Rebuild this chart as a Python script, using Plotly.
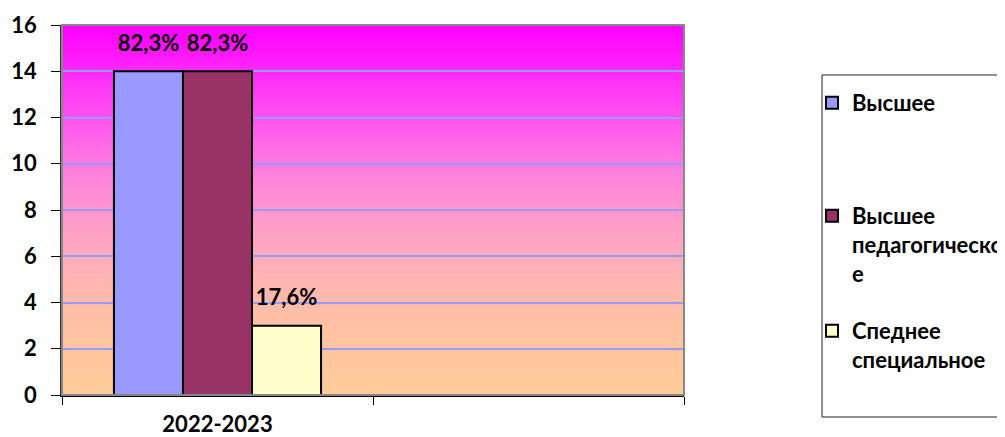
import plotly.graph_objects as go

# ---------------- data ----------------
categories = ["2022-2023"]
axis_slots = ["2022-2023", " "]
legend_texts = ["Высшее", "Высшее<br>педагогическо<br>е", "Спеднее<br>специальное"]
values_high = [14]
values_high_ped = [14]
values_special = [3]
labels_high = ["82,3%"]
labels_high_ped = ["82,3%"]
labels_special = ["17,6%"]
y_ticks = [0, 2, 4, 6, 8, 10, 12, 14, 16]

# ---------------- style ----------------
FONT = "Lato"
FS = 22
W, H = 1005, 437
colors = ["#9999FF", "#993366", "#FFFFCC"]
series_values = [values_high, values_high_ped, values_special]
series_labels = [labels_high, labels_high_ped, labels_special]
legend_ids = ["legend", "legend2", "legend3"]

fig = go.Figure()
for i in range(3):
    fig.add_trace(go.Bar(
        x=categories, y=series_values[i], name=legend_texts[i],
        marker=dict(color=colors[i], line=dict(color="black", width=2)),
        offsetgroup=str(i), legend=legend_ids[i], hoverinfo="skip",
    ))
for i in range(3):
    fig.add_trace(go.Scatter(
        x=categories, y=series_values[i], text=series_labels[i],
        mode="markers+text", textposition="top center",
        marker=dict(size=22, opacity=0),
        textfont=dict(family=FONT, size=FS, color="black", weight=700),
        offsetgroup=str(i), showlegend=False, hoverinfo="skip", cliponaxis=False,
    ))

# gradient background (decorative strips)
stops = [
    (0.0, (255, 204, 153)),
    (0.125, (255, 198, 158)),
    (0.25, (255, 188, 170)),
    (0.375, (255, 172, 188)),
    (0.5, (255, 150, 208)),
    (0.625, (255, 122, 225)),
    (0.75, (255, 82, 240)),
    (0.875, (255, 40, 250)),
    (1.0, (255, 0, 255)),
]

def interp(t):
    for (t0, c0), (t1, c1) in zip(stops[:-1], stops[1:]):
        if t0 <= t <= t1:
            f = (t - t0) / (t1 - t0)
            return "rgb(%d,%d,%d)" % tuple(round(a + (b - a) * f) for a, b in zip(c0, c1))
    return "rgb(255,0,255)"

N = 120
shapes = []
for k in range(N):
    shapes.append(dict(type="rect", xref="x domain", yref="y domain",
                       x0=0, x1=1, y0=k / N, y1=min((k + 1.3) / N, 1),
                       fillcolor=interp((k + 0.5) / N), line=dict(width=0),
                       layer="below"))
# plot-area border (gray)
shapes.append(dict(type="rect", xref="paper", yref="paper", x0=0, x1=1, y0=0, y1=1,
                   line=dict(color="#888888", width=2), layer="above"))
# legend box
shapes.append(dict(type="rect", xref="paper", yref="paper",
                   x0=1.2219, x1=1.52, y0=-0.0595, y1=0.8649,
                   line=dict(color="#222222", width=1), fillcolor="rgba(0,0,0,0)"))

legend_common = dict(font=dict(family=FONT, size=FS, color="black", weight=700),
                     bgcolor="rgba(0,0,0,0)", borderwidth=0, valign="top",
                     xref="container", yref="container",
                     xanchor="left", yanchor="top", x=804 / W, itemclick=False)

fig.update_layout(
    width=W, height=H, autosize=False,
    margin=dict(l=54, r=329, t=17, b=50, autoexpand=False),
    paper_bgcolor="white", plot_bgcolor="rgba(0,0,0,0)",
    barmode="group", bargap=0.334, bargroupgap=0,
    scattermode="group", scattergap=0.334,
    shapes=shapes,
    legend=dict(y=1 - 74 / H, **legend_common),
    legend2=dict(y=1 - 187 / H, **legend_common),
    legend3=dict(y=1 - 302 / H, **legend_common),
    xaxis=dict(type="category", categoryorder="array", categoryarray=axis_slots,
               range=[-0.5, 1.5], tickson="boundaries", ticks="outside", ticklen=8,
               tickcolor="black", tickwidth=1, showline=True, linecolor="black",
               linewidth=2, showgrid=False, ticklabelstandoff=9, automargin=False,
               tickfont=dict(family=FONT, size=FS, color="black", weight=700)),
    yaxis=dict(range=[0, 16], tickvals=y_ticks, ticks="outside", ticklen=9,
               tickcolor="black", tickwidth=1, showline=True, linecolor="#333333",
               linewidth=1.5, showgrid=True, gridcolor="#9999FF", gridwidth=2,
               zeroline=False, ticklabelstandoff=10, automargin=False,
               tickfont=dict(family=FONT, size=FS, color="black", weight=700)),
)

fig.write_html("out.html")
